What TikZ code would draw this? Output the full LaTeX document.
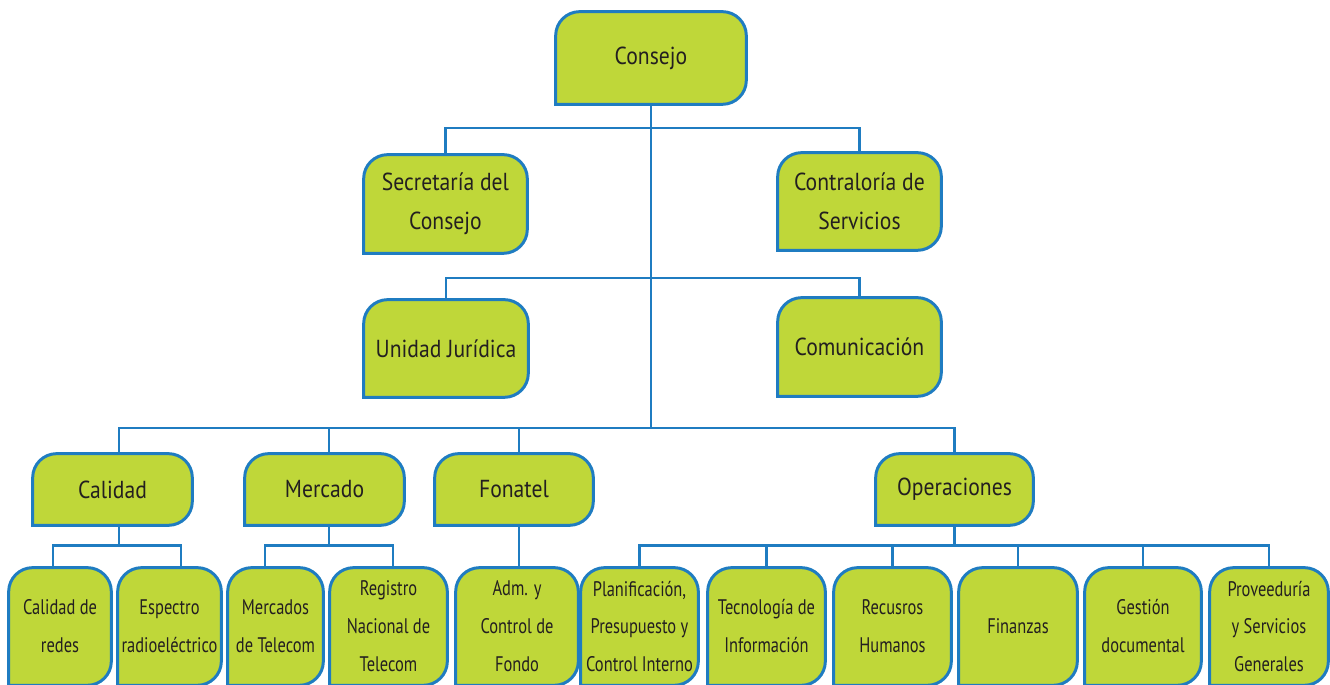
\documentclass[tikz,border=0pt]{standalone}
\usepackage{fontspec}
\setmainfont{PT Sans}
\newfontfamily\bigfont{PT Sans}[FakeStretch=0.88]
\newfontfamily\smallfont{PT Sans}[FakeStretch=0.78]
\usepackage{tikz}
\usetikzlibrary{backgrounds}
\definecolor{boxfill}{RGB}{191,215,57}
\definecolor{boxline}{RGB}{31,124,193}
\definecolor{boxtext}{RGB}{35,31,32}
\tikzset{bigbox/.style={inner sep=0pt, align=center, text=boxtext, font=\bigfont\fontsize{14}{22}\selectfont}}
\tikzset{smallbox/.style={inner sep=0pt, align=center, text=boxtext, minimum height=2.34cm, font=\smallfont\fontsize{12}{21.6}\selectfont}}
\tikzset{boxshape/.style={draw=boxline, fill=boxfill, line width=1.7pt, line cap=rect, rounded corners=0.48cm}}
\tikzset{conn/.style={draw=boxline, line width=1.5pt}}

\begin{document}
\begin{tikzpicture}[x=0.02cm, y=-0.02cm]
		\useasboundingbox (0,0) rectangle (1330,685);
		\node[bigbox, minimum width=3.8cm, minimum height=1.84cm] (consejo) at (651,58) {Consejo};
		\node[bigbox, minimum width=3.26cm, minimum height=1.96cm] (secretaria) at (445.5,204) {Secretaría del\\Consejo};
		\node[bigbox, minimum width=3.26cm, minimum height=1.94cm] (contraloria) at (859.5,201.5) {Contraloría de\\Servicios};
		\node[bigbox, minimum width=3.28cm, minimum height=1.94cm] (juridica) at (446,348.5) {Unidad Jurídica};
		\node[bigbox, minimum width=3.26cm, minimum height=1.96cm] (comunicacion) at (859.5,347) {Comunicación};
		\node[bigbox, minimum width=3.18cm, minimum height=1.42cm] (calidad) at (112.5,489.5) {Calidad};
		\node[bigbox, minimum width=3.18cm, minimum height=1.42cm] (mercado) at (324.5,489.5) {Mercado};
		\node[bigbox, minimum width=3.16cm, minimum height=1.42cm] (fonatel) at (514,489.5) {Fonatel};
		\node[bigbox, minimum width=3.14cm, minimum height=1.42cm] (operaciones) at (954.5,489.5) {Operaciones};
		\node[smallbox, minimum width=2.04cm] (redes) at (60,626.5) {Calidad de\\redes};
		\node[smallbox, minimum width=2.06cm] (espectro) at (169.5,626.5) {Espectro\\radioeléctrico};
		\node[smallbox, minimum width=1.9cm] (mercados) at (275.5,626.5) {Mercados\\de Telecom};
		\node[smallbox, minimum width=2.34cm] (registro) at (388.5,626.5) {Registro\\Nacional de\\Telecom};
		\node[smallbox, minimum width=2.44cm] (fondo) at (517,626.5) {Adm. y\\Control de\\Fondo};
		\node[smallbox, minimum width=2.34cm] (planificacion) at (639.5,626.5) {Planificación,\\Presupuesto y\\Control Interno};
		\node[smallbox, minimum width=2.34cm] (tecnologia) at (766.5,626.5) {Tecnología de\\Información};
		\node[smallbox, minimum width=2.34cm] (recursos) at (892.5,626.5) {Recusros\\Humanos};
		\node[smallbox, minimum width=2.36cm] (finanzas) at (1018,626.5) {Finanzas};
		\node[smallbox, minimum width=2.32cm] (gestion) at (1143,626.5) {Gestión\\documental};
		\node[smallbox, minimum width=2.36cm] (proveeduria) at (1269,626.5) {Proveeduría\\y Servicios\\Generales};
		\begin{scope}[on background layer]
			\foreach \n in {consejo, secretaria, contraloria, juridica, comunicacion, calidad, mercado, fonatel, operaciones, redes, espectro, mercados, registro, fondo, planificacion, tecnologia, recursos, finanzas, gestion, proveeduria}
				\path[boxshape] (\n.south west) -- (\n.north west) -- (\n.north east) -- (\n.south east) -- (\n.south west);
		\end{scope}
		\coordinate (t1) at (651,128);
		\coordinate (t2) at (651,278);
		\coordinate (t3) at (651,428);
		\coordinate (calidad-top) at ([xshift=0.13cm]calidad.north);
		\coordinate (mercado-top) at ([xshift=0.09cm]mercado.north);
		\coordinate (fonatel-top) at ([xshift=0.1cm]fonatel.north);
		\coordinate (redes-top) at ([xshift=-0.14cm]redes.north);
		\coordinate (espectro-top) at ([xshift=0.23cm]espectro.north);
		\coordinate (mercados-top) at ([xshift=-0.21cm]mercados.north);
		\coordinate (registro-top) at ([xshift=0.09cm]registro.north);
		\draw[conn] (consejo.south) -- (t3);
		\draw[conn] (secretaria.north) |- (t1) -| (contraloria.north);
		\draw[conn] (juridica.north) |- (t2) -| (comunicacion.north);
		\draw[conn] (calidad-top) |- (t3) -| (operaciones.north);
		\draw[conn] (mercado-top) -- (mercado-top |- t3);
		\draw[conn] (fonatel-top) -- (fonatel-top |- t3);
		\draw[conn] (calidad-top |- calidad.south) -- ++(0,20) coordinate (c1);
		\draw[conn] (redes-top) |- (c1) -| (espectro-top);
		\draw[conn] (mercado-top |- mercado.south) -- ++(0,20) coordinate (m1);
		\draw[conn] (mercados-top) |- (m1) -| (registro-top);
		\draw[conn] (fonatel-top |- fonatel.south) -- (fonatel-top |- fondo.north);
		\draw[conn] (operaciones.south) -- ++(0,20) coordinate (o1);
		\draw[conn] (planificacion.north) |- (o1) -| (proveeduria.north);
		\foreach \n in {tecnologia, recursos, finanzas, gestion}
			\draw[conn] (\n.north) -- (\n.north |- o1);
	\end{tikzpicture}
\end{document}
